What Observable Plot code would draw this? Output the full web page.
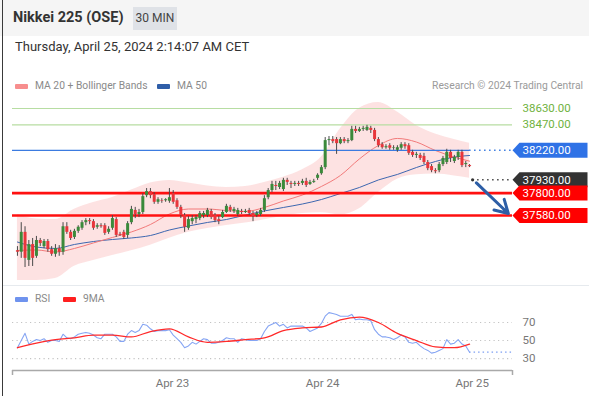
<!DOCTYPE html>
<html><head><meta charset="utf-8">
<script src="https://cdn.jsdelivr.net/npm/d3@7"></script>
<script src="https://cdn.jsdelivr.net/npm/@observablehq/plot@0.6"></script>
<style>
body{margin:0;background:#fff;font-family:Roboto,"Noto Sans",sans-serif;}
#card{position:relative;width:589px;height:396px;overflow:hidden;background:#fff;}
.abs{position:absolute;white-space:nowrap;}
.leg{font-size:10.3px;color:#8a8a8a;line-height:14px;}
.sw{position:absolute;width:13px;height:5px;border-radius:1px;}
</style></head>
<body>
<div id="card">
  <div class="abs" style="left:0;top:0;width:589px;height:36px;background:#f5f5f5"></div>
  <div class="abs" style="left:2px;top:0;width:1px;height:396px;background:#3a3a3a"></div>
  <div class="abs" style="left:13px;top:9px;font-size:14.5px;font-weight:bold;color:#333">Nikkei 225 (OSE)</div>
  <div class="abs" style="left:133px;top:7px;width:44px;height:23px;line-height:23px;background:#dfe2e7;font-size:12px;color:#444;text-align:center">30 MIN</div>
  <div class="abs" style="left:15px;top:39px;font-size:13px;color:#333">Thursday, April 25, 2024 2:14:07 AM CET</div>

  <div class="sw" style="left:15px;top:84px;background:#f78e8e"></div>
  <div class="abs leg" style="left:35px;top:79px">MA 20 + Bollinger Bands</div>
  <div class="sw" style="left:157px;top:84px;background:#2f5ea8"></div>
  <div class="abs leg" style="left:177px;top:79px">MA 50</div>
  <div class="abs leg" style="right:6px;top:79px;color:#9a9a9a">Research © 2024 Trading Central</div>

  <div id="main" class="abs" style="left:0;top:95px"></div>
  <div class="abs" style="left:3px;top:285px;width:586px;height:1px;background:#e6eaee"></div>

  <div class="sw" style="left:15px;top:297px;background:#6f93ee"></div>
  <div class="abs leg" style="left:35px;top:292px">RSI</div>
  <div class="sw" style="left:63px;top:297px;background:#ff1f1f"></div>
  <div class="abs leg" style="left:83px;top:292px">9MA</div>

  <div id="rsi" class="abs" style="left:0;top:305px"></div>
</div>
<script>
// ---------- data ----------
const open = [37235,37220,37415,37140,37295,37180,37335,37275,37325,37245,
  37200,37255,37220,37470,37415,37365,37425,37455,37510,37530,
  37520,37465,37480,37480,37415,37455,37540,37395,37415,37385,
  37510,37630,37590,37610,37775,37815,37785,37710,37725,37725,
  37720,37795,37725,37660,37580,37455,37520,37540,37550,37580,
  37580,37620,37580,37540,37560,37610,37660,37620,37590,37620,
  37610,37630,37600,37580,37590,37630,37755,37825,37875,37855,
  37835,37925,37895,37885,37895,37895,37915,37885,37905,37945,
  37990,38050,38315,38325,38325,38285,38325,38305,38315,38425,
  38405,38425,38415,38435,38415,38325,38275,38245,38265,38240,
  38220,38240,38275,38265,38200,38170,38170,38160,38100,38060,
  38020,38020,38080,38100,38200,38110,38150,38200,38080,38070];
const high = [37275,37510,37470,37335,37355,37375,37355,37345,37345,37275,
  37295,37285,37510,37510,37435,37445,37480,37530,37550,37550,
  37540,37500,37500,37500,37470,37580,37560,37415,37435,37520,
  37670,37660,37640,37795,37845,37845,37805,37755,37745,37745,
  37845,37825,37745,37680,37600,37570,37580,37580,37620,37620,
  37650,37640,37600,37570,37630,37690,37680,37660,37650,37640,
  37640,37650,37620,37620,37650,37775,37845,37915,37915,37915,
  37945,37945,37915,37915,37915,37935,37945,37925,37935,37990,
  38070,38345,38355,38355,38345,38345,38345,38335,38455,38455,
  38445,38455,38465,38455,38435,38345,38295,38275,38285,38265,
  38265,38295,38295,38285,38220,38200,38190,38190,38120,38080,
  38040,38100,38160,38230,38220,38170,38220,38220,38110,38080];
const low = [37180,37160,37070,37080,37080,37160,37275,37255,37220,37180,
  37170,37180,37190,37395,37335,37345,37405,37435,37480,37490,
  37435,37445,37455,37385,37395,37435,37365,37375,37345,37355,
  37490,37550,37560,37590,37755,37745,37690,37690,37700,37710,
  37700,37690,37640,37550,37415,37435,37490,37500,37530,37550,
  37560,37540,37510,37490,37550,37600,37610,37600,37570,37590,
  37600,37580,37520,37560,37570,37610,37735,37805,37825,37835,
  37815,37875,37845,37865,37865,37875,37855,37875,37895,37925,
  37975,38030,38265,38285,38180,38275,38285,38285,38305,38385,
  38395,38405,38405,38385,38305,38245,38230,38230,38220,38220,
  38200,38220,38230,38170,38150,38140,38120,38080,38020,38000,
  37990,38000,38060,38080,38100,38090,38120,38050,38050,38050];
const close = [37220,37415,37160,37295,37160,37335,37305,37325,37245,37200,
  37255,37220,37470,37415,37355,37425,37465,37510,37530,37520,
  37455,37480,37470,37405,37445,37550,37385,37385,37365,37500,
  37640,37590,37610,37765,37815,37775,37710,37735,37720,37735,
  37755,37710,37660,37580,37465,37540,37550,37560,37600,37600,
  37630,37560,37530,37520,37610,37670,37630,37640,37630,37610,
  37620,37600,37570,37600,37630,37745,37825,37885,37865,37895,
  37925,37905,37885,37895,37885,37915,37875,37905,37915,37975,
  38050,38315,38325,38305,38285,38325,38305,38315,38425,38405,
  38425,38435,38445,38415,38325,38265,38245,38255,38240,38245,
  38245,38275,38255,38190,38170,38180,38140,38100,38040,38020,
  38010,38080,38140,38200,38140,38150,38200,38070,38090,38060];

// indicator samples (candle index of each sample)
const maIdx = [0,5,10,15,20,25,30,35,40,45,50,55,60,65,70,75,80,85,90,95,100,105,110,115,119];
const ma20 = [37237,37242,37222,37257,37311,37365,37419,37492,37595,37644,37644,37629,37620,37659,37723,37781,37865,37973,38135,38267,38336,38301,38218,38154,38113];
const ma50 = [37320,37271,37257,37296,37325,37345,37360,37384,37438,37477,37512,37541,37585,37625,37659,37693,37737,37796,37855,37929,37983,38051,38110,38154,38169];
const bbUpper = [37590,37546,37541,37642,37708,37757,37830,37899,37924,37898,37869,37855,37865,37904,37955,38028,38154,38431,38632,38689,38595,38463,38380,38326,38289];
const bbLower = [36943,36943,36962,37083,37139,37188,37234,37289,37357,37415,37454,37483,37506,37539,37572,37601,37608,37587,37647,37806,37936,37979,37987,37969,37946];

const rsi = [42,50,58,46,49,51,50,52,48,50,
  50,49,57,53,52,54,57,58,59,58,
  56,53,52,57,57,57,54,49,49,57,
  61,59,61,68,67,63,60,61,61,61,
  62,56,52,48,42,44,48,46,49,52,
  51,47,47,48,50,53,52,52,48,52,
  51,50,50,50,52,60,66,68,70,66,
  68,64,66,66,66,66,64,60,62,64,
  69,77,81,80,79,77,77,77,79,73,
  74,73,73,72,62,57,54,54,53,51,
  53,56,54,48,47,48,44,41,39,36,
  37,39,41,51,46,47,51,46,44,37];
const rsi9 = [42,47,51,53,56,56,54,60,63,54,48,49,51,53,61,64,65,73,76,70,58,50,43,42,46];
const rsiLevels = [70, 50, 30];

// key levels
const levelPrices = [38630, 38470, 38220, 37930, 37800, 37580];
const levelRoles  = ["target", "target", "pivot", "last", "support", "support"];
const forecastFrom = 37900, forecastTo = 37600;

// x-axis
const dayLabels = ["Apr 23", "Apr 24", "Apr 25"];
const dayTicks = [40.8, 80.3, 119.7];

// ---------- layout ----------
const xDomain = [-1.3, 130.3];
const W = 589, ML = 12, MR = 77;
const idx = d3.range(open.length);
const last = open.length - 1;
const levels = levelPrices.map((p, k) => ({price: p, role: levelRoles[k]}));
const of = r => levels.filter(d => d.role === r);
const GREEN = "#3b8a3b", RED = "#e8363b";

const tagSymbol = {draw(ctx) {
  ctx.moveTo(0, 0); ctx.lineTo(7, -7.5); ctx.lineTo(75, -7.5);
  ctx.lineTo(75, 7.5); ctx.lineTo(7, 7.5); ctx.closePath();
}};
const tag = (rows, fill) => Plot.dot(rows, {y: "price", frameAnchor: "right", symbol: tagSymbol, fill, stroke: null, r: 5});
const tagText = (rows, fill) => Plot.text(rows, {y: "price", text: d => d.price.toFixed(2), frameAnchor: "right",
  textAnchor: "start", dx: 10, fill, fontSize: 11.5});

const main = Plot.plot({
  width: W, height: 190, marginLeft: ML, marginRight: MR, marginTop: 0, marginBottom: 0,
  style: {fontFamily: "Roboto, sans-serif", background: "transparent", overflow: "visible"},
  x: {domain: xDomain, axis: null},
  y: {domain: [36893.6, 38757.5], axis: null},
  marks: [
    Plot.areaY(maIdx, {x: d => d, y1: (d, j) => bbLower[j], y2: (d, j) => bbUpper[j], fill: "#fbcfcf", fillOpacity: 0.6, curve: "monotone-x"}),
    Plot.line(maIdx, {x: d => d, y: (d, j) => ma50[j], stroke: "#3d67b0", strokeWidth: 1, curve: "monotone-x"}),
    Plot.line(maIdx, {x: d => d, y: (d, j) => ma20[j], stroke: "#f27a7a", strokeWidth: 1, curve: "monotone-x"}),
    Plot.ruleY(of("target"), {y: "price", stroke: "#b7dda2", strokeWidth: 1.2}),
    Plot.ruleY(of("pivot"), {y: "price", x1: xDomain[0], x2: last, stroke: "#3b7be0", strokeWidth: 1.3}),
    Plot.ruleY(of("pivot"), {y: "price", x1: last, x2: xDomain[1], stroke: "#3b7be0", strokeWidth: 1.5, strokeDasharray: "1.5,3.5"}),
    Plot.ruleY(of("last"), {y: "price", x1: last + 0.8, x2: xDomain[1], stroke: "#444", strokeWidth: 1.5, strokeDasharray: "1.5,3.5"}),
    Plot.dot(of("last"), {y: "price", x: last + 0.8, r: 1.6, fill: "#333"}),
    Plot.ruleY(of("support"), {y: "price", stroke: "#ff1010", strokeWidth: 2.6}),
    Plot.ruleX(idx, {x: i => i, y1: i => low[i], y2: i => high[i], stroke: "#4a4a4a", strokeWidth: 1}),
    Plot.ruleX(idx, {filter: i => close[i] >= open[i], x: i => i, y1: i => open[i], y2: i => close[i], stroke: GREEN, strokeWidth: 3}),
    Plot.ruleX(idx, {filter: i => close[i] < open[i], x: i => i, y1: i => open[i], y2: i => close[i], stroke: RED, strokeWidth: 3}),
    Plot.arrow([0], {x1: last + 1.8, y1: forecastFrom, x2: last + 10.2, y2: forecastTo, stroke: "#2d5ea6", strokeWidth: 3, headLength: 11, bend: 0}),
    tagText(of("target"), "#6fb23e"),
    tag(of("pivot"), "#2f72e6"), tag(of("last"), "#333"), tag(of("support"), "#ff0000"),
    tagText(of("pivot"), "#fff"), tagText(of("last"), "#fff"), tagText(of("support"), "#fff")
  ]
});
document.getElementById("main").appendChild(main);

const rsiPlot = Plot.plot({
  width: W, height: 91, marginLeft: ML, marginRight: MR, marginTop: 0, marginBottom: 26,
  style: {fontFamily: "Roboto, sans-serif", background: "transparent", overflow: "visible"},
  x: {domain: xDomain, axis: null},
  y: {domain: [16.7, 88.9], axis: null},
  marks: [
    Plot.ruleY(rsiLevels, {stroke: "#c4c4c4", strokeWidth: 1.2, strokeDasharray: "1.2,3.3"}),
    Plot.text(rsiLevels, {y: d => d, text: d => String(d), frameAnchor: "right", textAnchor: "start", dx: 10, fill: "#777", fontSize: 11.5}),
    Plot.ruleY([rsi[last]], {x1: last, x2: xDomain[1], stroke: "#7d9ff2", strokeWidth: 1.3, strokeDasharray: "1.5,3"}),
    Plot.line(idx, {x: i => i, y: i => rsi[i], stroke: "#86a5f3", strokeWidth: 1.1}),
    Plot.line(maIdx, {x: d => d, y: (d, j) => rsi9[j], stroke: "#ff2a2a", strokeWidth: 1.3, curve: "monotone-x"}),
    Plot.ruleY([16.7], {stroke: "#a9a9a9", strokeWidth: 1.5}),
    Plot.axisX({ticks: xDomain, tickSize: 5, tickFormat: () => "", stroke: "#a9a9a9", strokeWidth: 1.5, label: null}),
    Plot.axisX({ticks: dayTicks, tickSize: 0, tickPadding: 8, tickFormat: d => dayLabels[dayTicks.indexOf(d)], fill: "#777", fontSize: 11.5, label: null})
  ]
});
document.getElementById("rsi").appendChild(rsiPlot);
</script>
</body></html>
